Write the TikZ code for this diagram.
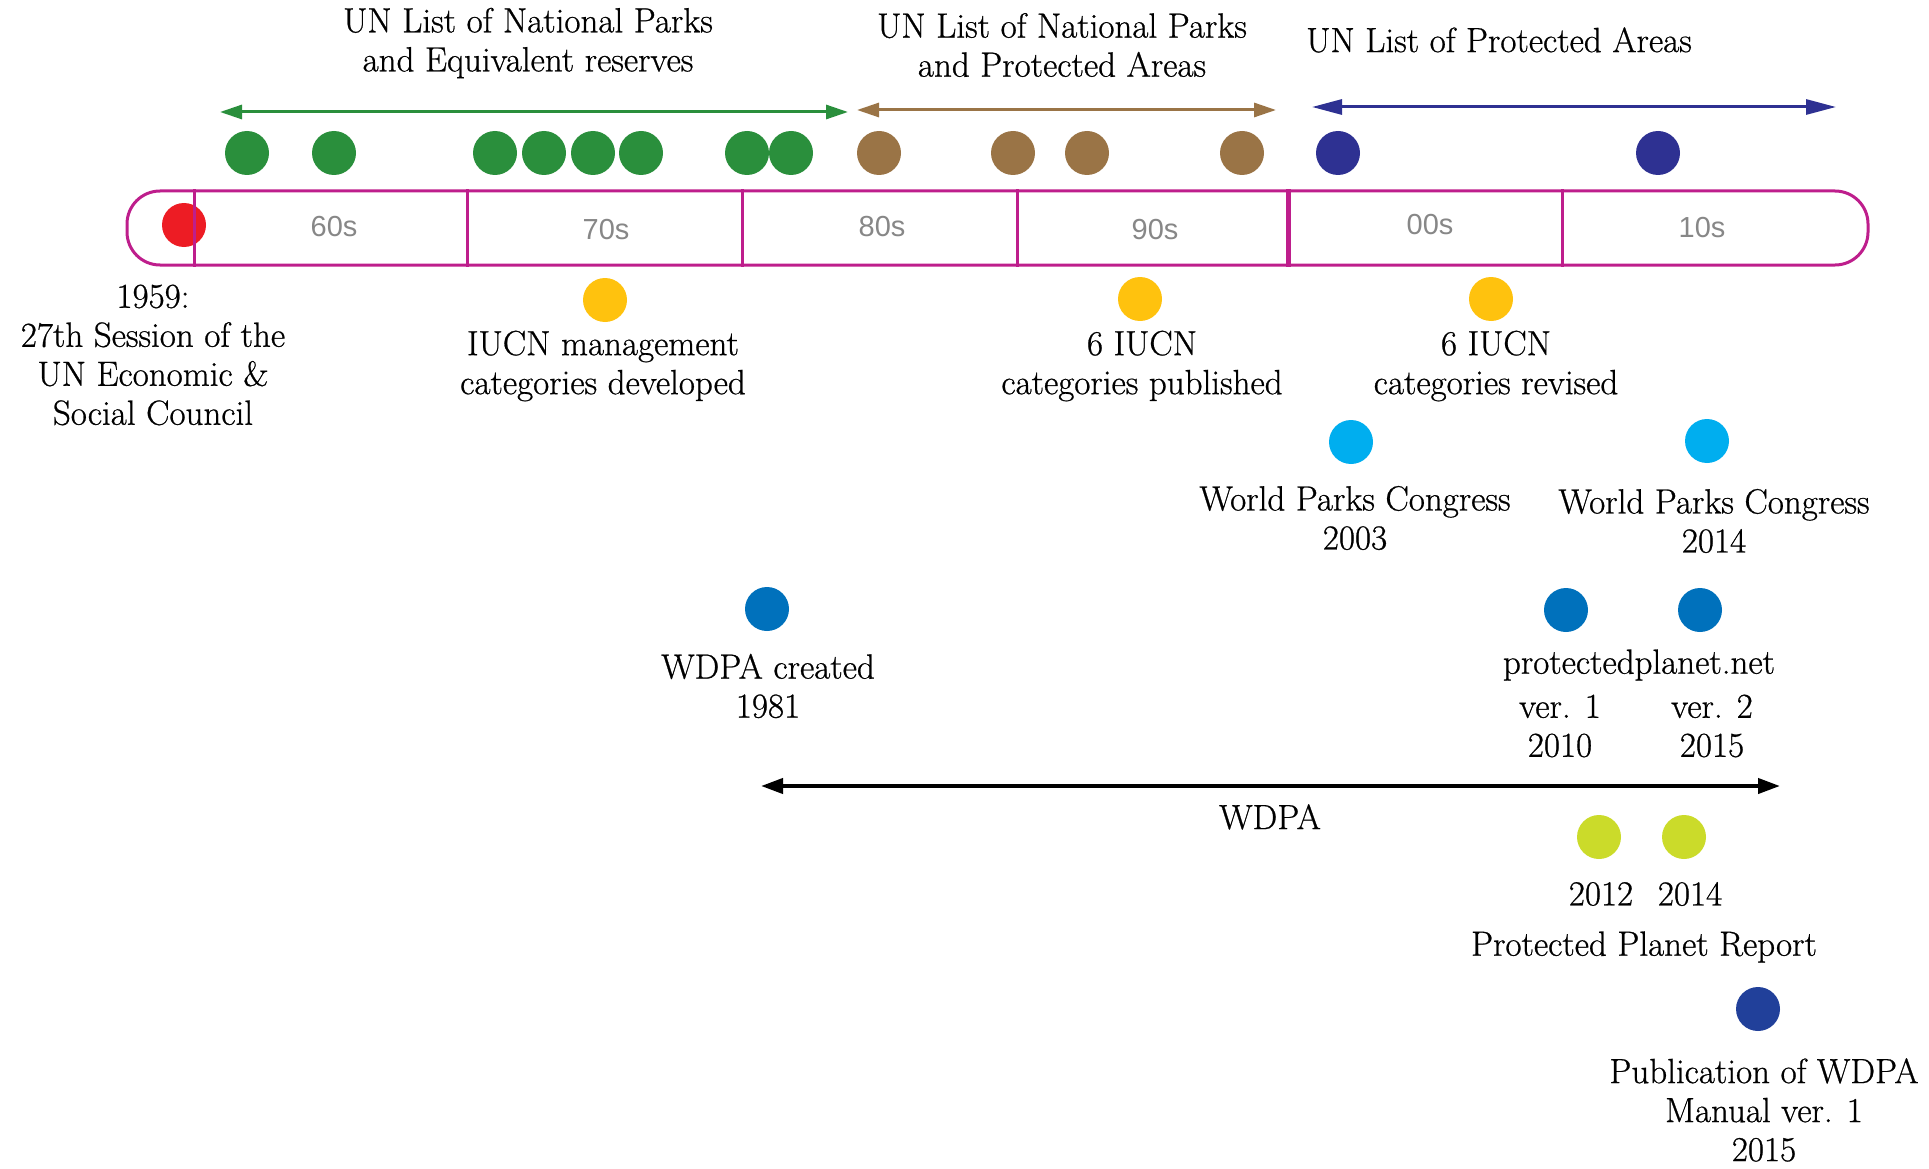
\documentclass[tikz,border=0pt]{standalone}
\usepackage{fontspec}
\newfontfamily\decfont{Liberation Sans}
\newfontfamily\lblfont[FakeBold=0.7]{Latin Modern Roman}
\usetikzlibrary{arrows.meta}
\definecolor{mag}{RGB}{190,30,140}
\definecolor{cred}{RGB}{237,28,36}
\definecolor{cgreen}{RGB}{42,143,60}
\definecolor{cbrown}{RGB}{154,116,70}
\definecolor{cnavy}{RGB}{46,49,146}
\definecolor{cyellow}{RGB}{255,194,14}
\definecolor{clblue}{RGB}{0,174,239}
\definecolor{cblue}{RGB}{0,113,188}
\definecolor{clime}{RGB}{203,219,42}
\definecolor{cdblue}{RGB}{33,64,154}
\definecolor{decgray}{RGB}{135,135,135}
\begin{document}
\begin{tikzpicture}[x=1pt,y=-1pt,
  dot/.style={circle,draw=none,minimum size=44pt,inner sep=0pt},
  lbl/.style={font=\fontsize{35}{39}\selectfont\lblfont,align=center,inner sep=0pt},
  declbl/.style={font=\fontsize{29}{35}\selectfont\decfont,text=decgray,inner sep=0pt},
  divider/.style={draw=mag,line width=3pt},
  span/.style={line width=3pt,{Triangle[length=22pt,width=14pt]}-{Triangle[length=22pt,width=14pt]}}
]
\useasboundingbox (0,0) rectangle (1929,1169);

% top titles
\node[lbl] (t1) at (528,43) {UN List of National Parks\\and Equivalent reserves};
\node[lbl] (t2) at (1062,45) {UN List of National Parks\\and Protected Areas};
\node[lbl] (t3) at (1499,40) {UN List of Protected Areas};

% span arrows
\coordinate (ga) at (220,112); \coordinate (gb) at (848,112);
\coordinate (ba) at (857,110); \coordinate (bb) at (1276,110);
\coordinate (na) at (1312,107); \coordinate (nb) at (1836,107);
\draw[span,draw=cgreen] (ga) -- (gb);
\draw[span,draw=cbrown] (ba) -- (bb);
\draw[line width=3pt,draw=cnavy,{Triangle[length=30pt,width=15pt]}-{Triangle[length=30pt,width=15pt]}] (na) -- (nb);

% top dots
\foreach \x/\n in {247/g1,334/g2,495/g3,544/g4,593/g5,641/g6,747/g7,791/g8}
  \node[dot,fill=cgreen] (\n) at (\x,153) {};
\foreach \x/\n in {879/b1,1013/b2,1087/b3,1242/b4}
  \node[dot,fill=cbrown] (\n) at (\x,153) {};
\foreach \x/\n in {1338/n1,1658/n2}
  \node[dot,fill=cnavy] (\n) at (\x,153) {};

% bar
\node[dot,fill=cred] (red) at (184,225) {};
\node[draw=mag,line width=3pt,rounded corners=33pt,minimum width=1741pt,minimum height=74pt,inner sep=0pt] (bar) at (997.5,228) {};
\foreach \x/\n in {194/d1,467/d2,742/d3,1017/d4,1562/d6}{
  \coordinate (\n) at (\x,228);
  \draw[divider] (\n |- bar.north) -- (\n |- bar.south);
}
\coordinate (d5) at (1288,228);
\draw[divider,line width=5pt] (d5 |- bar.north) -- (d5 |- bar.south);

\node[declbl] (l60) at (334,227) {60s};
\node[declbl] (l70) at (606,230) {70s};
\node[declbl] (l80) at (882,227) {80s};
\node[declbl] (l90) at (1155,230) {90s};
\node[declbl] (l00) at (1430,225) {00s};
\node[declbl] (l10) at (1702,228) {10s};

% events below bar
\node[lbl] (e1959) at (153,355) {1959:\\27th Session of the\\UN Economic \&\\Social Council};

\node[dot,fill=cyellow] (y1) at (605,300) {};
\node[dot,fill=cyellow] (y2) at (1140,299) {};
\node[dot,fill=cyellow] (y3) at (1491,299) {};
\node[lbl] (ey1) at (603,366) {IUCN management\\categories developed};
\node[lbl] (ey2) at (1142,366) {6 IUCN\\categories published};
\node[lbl] (ey3) at (1496,366) {6 IUCN\\categories revised};

\node[dot,fill=clblue] (w1) at (1351,442) {};
\node[dot,fill=clblue] (w2) at (1707,441) {};
\node[lbl] (ew1) at (1355,518) {World Parks Congress\\2003};
\node[lbl] (ew2) at (1714,521) {World Parks Congress\\2014};

\node[dot,fill=cblue] (wd) at (767,609) {};
\node[lbl] (ewd) at (768,686) {WDPA created\\1981};

\node[dot,fill=cblue] (p1) at (1566,610) {};
\node[dot,fill=cblue] (p2) at (1700,610) {};
\node[lbl] (epp) at (1639,665) {protectedplanet.net};
\node[lbl] (ep1) at (1560,726) {ver. 1\\2010};
\node[lbl] (ep2) at (1712,726) {ver. 2\\2015};

% WDPA span
\coordinate (wa) at (761,786); \coordinate (wb) at (1780,786);
\draw[line width=4pt,{Triangle[length=22pt,width=15pt]}-{Triangle[length=22pt,width=15pt]}] (wa) -- (wb);
\node[lbl] (ewdpa) at (1270,817) {WDPA};

\node[dot,fill=clime] (r1) at (1599,837) {};
\node[dot,fill=clime] (r2) at (1684,837) {};
\node[lbl] (er1) at (1601,894) {2012};
\node[lbl] (er2) at (1690,894) {2014};
\node[lbl] (epr) at (1644,947) {Protected Planet Report};

\node[dot,fill=cdblue] (m1) at (1758,1009) {};
\node[lbl] (em1) at (1764,1110) {Publication of WDPA\\Manual ver. 1\\2015};
\end{tikzpicture}
\end{document}
